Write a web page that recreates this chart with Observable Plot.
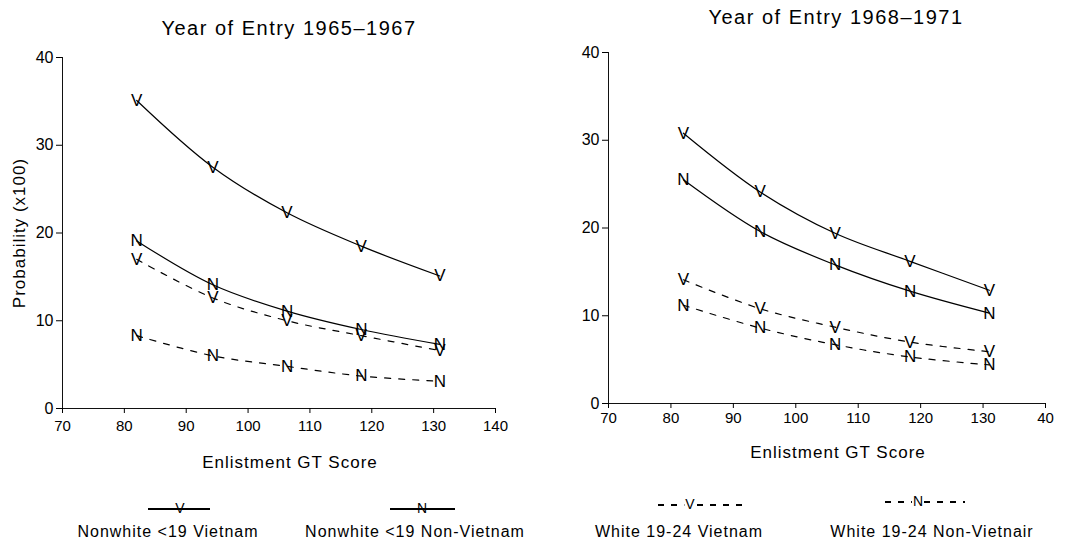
<!DOCTYPE html>
<html>
<head>
<meta charset="utf-8">
<script src="https://cdn.jsdelivr.net/npm/d3@7"></script>
<script src="https://cdn.jsdelivr.net/npm/@observablehq/plot@0.6"></script>
<style>
  html, body { margin: 0; padding: 0; background: #fff; }
  #wrap { position: relative; width: 1073px; height: 543px; overflow: hidden; font-family: "Liberation Sans", Arial, sans-serif; color: #000; }
  .abs { position: absolute; white-space: nowrap; }
  .title { font-size: 20px; letter-spacing: 1.5px; transform: translate(-50%, -50%); }
  .xlab { font-size: 17px; letter-spacing: 1px; transform: translate(-50%, -50%); }
  .ylab { font-size: 17px; letter-spacing: 1px; transform: translate(-50%, -50%) rotate(-90deg); }
  .leglab { font-size: 16px; letter-spacing: 1px; transform: translate(-50%, -50%); }
  .sample { position: absolute; height: 0; }
  .sample .ln { position: absolute; left: 0; right: 0; top: -1px; height: 1.5px; background: #000; }
  .sample .ln.dash { background: repeating-linear-gradient(to right, #000 0 6px, transparent 6px 13px); }
  .sample .let { position: absolute; top: 0; transform: translate(-50%, -55%); font-size: 14px; color: #000; background: #fff; padding: 0 1px; line-height: 1; }
</style>
</head>
<body>
<div id="wrap"></div>
<script>
// ---------- data ----------
const gtScore = [82, 94.3, 106.3, 118.3, 131];
const xTicks = [70, 80, 90, 100, 110, 120, 130, 140];
const yTicks = [0, 10, 20, 30, 40];
const panelTitles = ["Year of Entry 1965–1967", "Year of Entry 1968–1971"];
const seriesNames = ["Nonwhite <19 Vietnam", "Nonwhite <19 Non-Vietnam", "White 19-24 Vietnam", "White 19-24 Non-Vietnair"];
const seriesLetters = ["V", "N", "V", "N"];
const seriesDashed = [false, false, true, true];

// Year of entry 1965-1967
const nwViet6567 = [35.1, 27.5, 22.3, 18.5, 15.1];
const nwNon6567  = [19.1, 14.1, 11.1, 9.0, 7.3];
const wViet6567  = [17.0, 12.6, 10.0, 8.3, 6.6];
const wNon6567   = [8.3, 6.0, 4.8, 3.7, 3.1];
// Year of entry 1968-1971
const nwViet6871 = [30.8, 24.1, 19.4, 16.2, 12.9];
const nwNon6871  = [25.5, 19.6, 15.8, 12.8, 10.3];
const wViet6871  = [14.1, 10.8, 8.7, 7.0, 5.9];
const wNon6871   = [11.2, 8.6, 6.7, 5.3, 4.4];

const panel1 = [nwViet6567, nwNon6567, wViet6567, wNon6567];
const panel2 = [nwViet6871, nwNon6871, wViet6871, wNon6871];

function rowsFor(panel) {
  const rows = [];
  panel.forEach((vals, s) => {
    vals.forEach((v, i) => rows.push({x: gtScore[i], y: v, series: seriesNames[s], letter: seriesLetters[s], dashed: seriesDashed[s]}));
  });
  return rows;
}

function makePanel(panel, o) {
  const rows = rowsFor(panel);
  return Plot.plot({
    width: o.width, height: o.height,
    marginLeft: o.ml, marginRight: o.mr, marginTop: o.mt, marginBottom: o.mb,
    style: {fontFamily: '"Liberation Sans", Arial, sans-serif', fontSize: "15px", color: "#000", background: "transparent", overflow: "visible"},
    x: {domain: [70, 140]},
    y: {domain: [0, 40]},
    marks: [
      Plot.ruleX([70], {stroke: "#111", strokeWidth: 1}),
      Plot.ruleY([0], {stroke: "#111", strokeWidth: 1.2}),
      Plot.axisX({ticks: xTicks, tickSize: 5, tickPadding: o.xpad, fontSize: 15, label: null, tickFormat: o.xfmt}),
      Plot.axisY({ticks: yTicks, tickSize: 6, tickPadding: 3, fontSize: 16, label: null}),
      Plot.line(rows.filter(d => !d.dashed), {x: "x", y: "y", z: "series", stroke: "#000", strokeWidth: 1.2, curve: "catmull-rom"}),
      Plot.line(rows.filter(d => d.dashed), {x: "x", y: "y", z: "series", stroke: "#000", strokeWidth: 1.2, strokeDasharray: "6,8", curve: "catmull-rom"}),
      Plot.text(rows, {x: "x", y: "y", text: "letter", fontSize: 17, fill: "#000"})
    ]
  });
}

const wrap = document.getElementById("wrap");
function place(el, left, top) {
  el.style.position = "absolute"; el.style.left = left + "px"; el.style.top = top + "px";
  wrap.appendChild(el);
}

const p1 = makePanel(panel1, {width: 520, height: 440, ml: 62, mr: 25, mt: 57, mb: 32, xpad: 7, xfmt: d => String(d)});
place(p1, 0, 0);
const p2 = makePanel(panel2, {width: 533, height: 440, ml: 68, mr: 28, mt: 52, mb: 37, xpad: 4, xfmt: d => d === 140 ? "40" : String(d)});
place(p2, 540, 0);

function addText(cls, text, x, y) {
  const d = document.createElement("div");
  d.className = "abs " + cls;
  d.textContent = text;
  d.style.left = x + "px"; d.style.top = y + "px";
  wrap.appendChild(d);
}
addText("title", panelTitles[0], 289, 28);
addText("title", panelTitles[1], 836, 17);
addText("xlab", "Enlistment GT Score", 290, 463);
addText("xlab", "Enlistment GT Score", 838, 453);
addText("ylab", "Probability (x100)", 20, 233);

// legend
const legLabelX = [168, 415, 679, 932];
const legSampleX = [[148, 210], [390, 455], [658, 742], [885, 965]];
const legSampleY = [509, 509, 505, 502];
const legLetterX = [180, 422, 690, 918];
seriesNames.forEach((name, i) => {
  addText("leglab", name, legLabelX[i], 532);
  const s = document.createElement("div");
  s.className = "sample";
  s.style.left = legSampleX[i][0] + "px";
  s.style.width = (legSampleX[i][1] - legSampleX[i][0]) + "px";
  s.style.top = legSampleY[i] + "px";
  const ln = document.createElement("div");
  ln.className = "ln" + (seriesDashed[i] ? " dash" : "");
  s.appendChild(ln);
  const lt = document.createElement("div");
  lt.className = "let";
  lt.textContent = seriesLetters[i];
  lt.style.left = (legLetterX[i] - legSampleX[i][0]) + "px";
  if (!seriesDashed[i]) lt.style.background = "transparent";
  s.appendChild(lt);
  wrap.appendChild(s);
});
</script>
</body>
</html>
